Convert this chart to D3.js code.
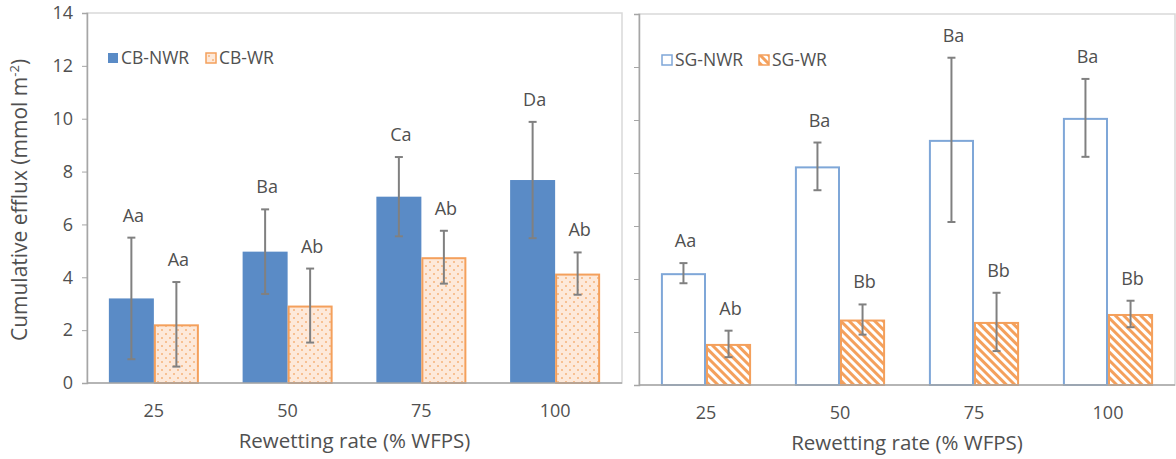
<!DOCTYPE html>
<html>
<head>
<meta charset="utf-8">
<script src="https://cdn.jsdelivr.net/npm/d3@7"></script>
<style>
  body { margin: 0; background: #fff; }
  text { font-family: "Open Sans", sans-serif; fill: #505050; }
</style>
</head>
<body>
<script>
(function(){
'use strict';

var categories = ['25', '50', '75', '100'];
var yTicks = [0, 2, 4, 6, 8, 10, 12, 14];

// left panel (CB)
var cbNwr = [3.2, 4.97, 7.05, 7.68];
var cbNwrErr = [2.3, 1.6, 1.5, 2.2];
var cbNwrLabels = ['Aa', 'Ba', 'Ca', 'Da'];
var cbWr = [2.22, 2.93, 4.76, 4.14];
var cbWrErr = [1.6, 1.4, 1.0, 0.8];
var cbWrLabels = ['Aa', 'Ab', 'Ab', 'Ab'];

// right panel (SG)
var sgNwr = [4.22, 8.25, 9.25, 10.08];
var sgNwrErr = [0.38, 0.9, 3.1, 1.47];
var sgNwrLabels = ['Aa', 'Ba', 'Ba', 'Ba'];
var sgWr = [1.55, 2.47, 2.38, 2.68];
var sgWrErr = [0.5, 0.57, 1.1, 0.5];
var sgWrLabels = ['Ab', 'Bb', 'Bb', 'Bb'];

var blue = '#5a8bc6';
var lightBlue = '#7fa7d8';
var orange = '#f4a05c';
var grey = '#808080';

var svg = d3.select('body').append('svg')
  .attr('width', 1176)
  .attr('height', 459);

var defs = svg.append('defs');

// dotted fill for CB-WR
var dots = defs.append('pattern')
  .attr('id', 'dots')
  .attr('patternUnits', 'userSpaceOnUse')
  .attr('width', 8)
  .attr('height', 8);
dots.append('rect').attr('width', 8).attr('height', 8).attr('fill', '#fde9da');
dots.append('circle').attr('cx', 2).attr('cy', 2).attr('r', 1).attr('fill', '#f6b27a');
dots.append('circle').attr('cx', 6).attr('cy', 6).attr('r', 1).attr('fill', '#f6b27a');

// diagonal stripes for SG-WR
var stripes = defs.append('pattern')
  .attr('id', 'stripes')
  .attr('patternUnits', 'userSpaceOnUse')
  .attr('width', 6)
  .attr('height', 6)
  .attr('patternTransform', 'rotate(-45)');
stripes.append('rect').attr('width', 6).attr('height', 6).attr('fill', '#fff');
stripes.append('rect').attr('width', 3).attr('height', 6).attr('fill', orange);

function panel(opt){
  var x0 = opt.left, x1 = opt.right, y0 = opt.bottom, y1 = opt.top;
  var g = svg.append('g');

  var x = d3.scaleBand().domain(categories).range([x0, x1])
    .paddingInner(0.327).paddingOuter(0.1635);
  var xs = d3.scaleBand().domain([0, 1]).range([0, x.bandwidth()]);
  var y = d3.scaleLinear().domain([0, 14]).range([y0, y1]);

  // plot frame
  g.append('rect')
    .attr('x', x0).attr('y', y1)
    .attr('width', x1 - x0).attr('height', y0 - y1)
    .attr('fill', 'none').attr('stroke', '#d9d9d9').attr('stroke-width', 1.5);

  // y axis
  var ya = d3.axisLeft(y).tickValues(yTicks).tickSize(5).tickPadding(9)
    .tickFormat(opt.yLabels ? d3.format('d') : function(){ return ''; });
  var yg = g.append('g').attr('transform', 'translate(' + x0 + ',0)').call(ya);
  yg.select('.domain').attr('stroke', '#a6a6a6').attr('stroke-width', 1.5);
  yg.selectAll('.tick line').attr('stroke', '#a6a6a6');
  yg.selectAll('.tick text').style('font-size', '18px').attr('fill', '#505050')
    .style('font-family', '"Open Sans", sans-serif');

  var series = [
    {vals: opt.s1, err: opt.e1, labels: opt.l1, fill: opt.fill1, stroke: opt.stroke1, i: 0},
    {vals: opt.s2, err: opt.e2, labels: opt.l2, fill: opt.fill2, stroke: opt.stroke2, i: 1}
  ];

  series.forEach(function(s){
    var data = categories.map(function(c, k){
      return {c: c, v: s.vals[k], e: s.err[k], t: s.labels[k]};
    });
    var inset = s.stroke === 'none' ? 0 : 1;
    g.selectAll(null).data(data).enter().append('rect')
      .attr('x', function(d){ return x(d.c) + xs(s.i) + inset; })
      .attr('y', function(d){ return y(d.v) + inset; })
      .attr('width', xs.bandwidth() - 2 * inset)
      .attr('height', function(d){ return y0 - y(d.v) - inset; })
      .attr('fill', s.fill)
      .attr('stroke', s.stroke)
      .attr('stroke-width', 2);

    var cx = function(d){ return x(d.c) + xs(s.i) + xs.bandwidth() / 2; };
    var eb = g.selectAll(null).data(data).enter().append('g');
    eb.append('line')
      .attr('x1', cx).attr('x2', cx)
      .attr('y1', function(d){ return y(d.v + d.e); })
      .attr('y2', function(d){ return y(d.v - d.e); });
    eb.append('line')
      .attr('x1', function(d){ return cx(d) - 4; }).attr('x2', function(d){ return cx(d) + 4; })
      .attr('y1', function(d){ return y(d.v + d.e); })
      .attr('y2', function(d){ return y(d.v + d.e); });
    eb.append('line')
      .attr('x1', function(d){ return cx(d) - 4; }).attr('x2', function(d){ return cx(d) + 4; })
      .attr('y1', function(d){ return y(d.v - d.e); })
      .attr('y2', function(d){ return y(d.v - d.e); });
    eb.selectAll('line').attr('stroke', grey).attr('stroke-width', 2);

    g.selectAll(null).data(data).enter().append('text')
      .attr('x', function(d){ return cx(d) + 2; })
      .attr('y', function(d){ return y(d.v + d.e) - 16; })
      .attr('text-anchor', 'middle')
      .style('font-size', '18px')
      .text(function(d){ return d.t; });
  });

  // x axis line
  g.append('line')
    .attr('x1', x0).attr('x2', x1).attr('y1', y0).attr('y2', y0)
    .attr('stroke', '#a6a6a6').attr('stroke-width', 1.5);

  g.selectAll(null).data(categories).enter().append('text')
    .attr('x', function(d){ return x(d) + x.bandwidth() / 2; })
    .attr('y', y0 + 34)
    .attr('text-anchor', 'middle')
    .style('font-size', '18px')
    .text(function(d){ return d; });

  g.append('text')
    .attr('x', (x0 + x1) / 2)
    .attr('y', y0 + 65)
    .attr('text-anchor', 'middle')
    .style('font-size', '20.5px')
    .text('Rewetting rate (% WFPS)');

  // legend
  var lg = g.append('g').attr('transform', 'translate(' + opt.legX + ',' + opt.legY + ')');
  [0, 1].forEach(function(k){
    var s = series[k];
    var ox = k === 0 ? 0 : opt.legGap;
    lg.append('rect')
      .attr('x', ox + 1).attr('y', -5)
      .attr('width', 10).attr('height', 10)
      .attr('fill', s.fill)
      .attr('stroke', s.stroke)
      .attr('stroke-width', 1.5);
    lg.append('text')
      .attr('x', ox + 14).attr('y', 6)
      .style('font-size', '17.5px')
      .text(opt.names[k]);
  });
}

panel({
  left: 87, right: 622, top: 13, bottom: 383, yLabels: true,
  s1: cbNwr, e1: cbNwrErr, l1: cbNwrLabels, fill1: blue, stroke1: 'none',
  s2: cbWr, e2: cbWrErr, l2: cbWrLabels, fill2: 'url(#dots)', stroke2: orange,
  names: ['CB-NWR', 'CB-WR'], legX: 107, legY: 58, legGap: 98
});

panel({
  left: 639, right: 1175, top: 14, bottom: 385, yLabels: false,
  s1: sgNwr, e1: sgNwrErr, l1: sgNwrLabels, fill1: '#fff', stroke1: lightBlue,
  s2: sgWr, e2: sgWrErr, l2: sgWrLabels, fill2: 'url(#stripes)', stroke2: orange,
  names: ['SG-NWR', 'SG-WR'], legX: 661, legY: 60, legGap: 97
});

// y axis title
svg.append('text')
  .attr('transform', 'translate(27,200) rotate(-90)')
  .attr('text-anchor', 'middle')
  .style('font-size', '21px')
  .text('Cumulative efflux (mmol m')
  .append('tspan').attr('dy', -8).style('font-size', '13px').text('-2')
  .select(function(){ return this.parentNode; })
  .append('tspan').attr('dy', 8).style('font-size', '21px').text(')');

})();
</script>
</body>
</html>
